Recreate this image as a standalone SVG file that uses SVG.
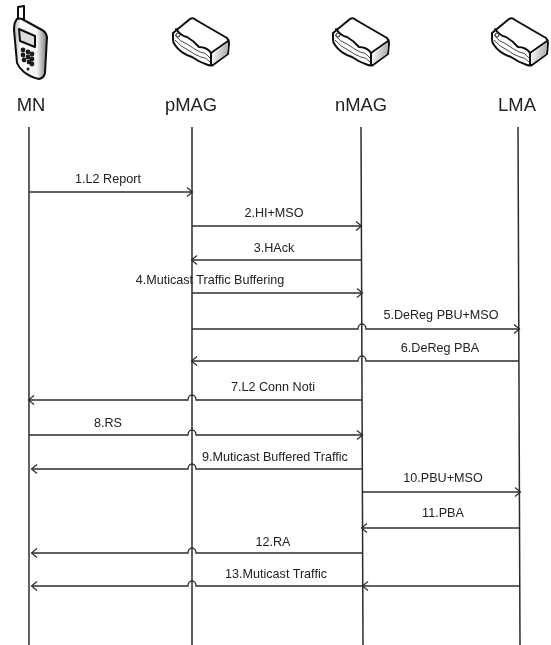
<svg xmlns="http://www.w3.org/2000/svg" width="551" height="645" viewBox="0 0 551 645">
<style>
text{font-family:"Liberation Sans",Arial,sans-serif;fill:#222}
.h{font-size:18.4px;text-anchor:middle}
.m{font-size:12.6px;text-anchor:middle}
.l{fill:none;stroke:#2b2b2b;stroke-width:1.5}
.a{fill:none;stroke:#2b2b2b;stroke-width:1.3}
.o{stroke:#111;stroke-width:2;stroke-linejoin:round;stroke-linecap:round}
.t{fill:none;stroke:#333;stroke-width:0.9;stroke-linejoin:round}
</style>
<defs>
<marker id="arr" markerUnits="userSpaceOnUse" markerWidth="12" markerHeight="12" refX="9" refY="6" orient="auto-start-reverse"><path d="M4 1.5 L9.5 6 L4 10.5" fill="none" stroke="#2b2b2b" stroke-width="1.2"/></marker>
<linearGradient id="side" x1="0" y1="0" x2="1" y2="0.2"><stop offset="0" stop-color="#fff"/><stop offset="1" stop-color="#b0b0b0"/></linearGradient>
<linearGradient id="ph" x1="0" y1="0" x2="1" y2="0"><stop offset="0" stop-color="#aaa"/><stop offset="0.2" stop-color="#fff"/><stop offset="0.7" stop-color="#f2f2f2"/><stop offset="1" stop-color="#777"/></linearGradient>
<filter id="b" x="-5%" y="-5%" width="110%" height="110%"><feGaussianBlur stdDeviation="0.5"/></filter>
<g id="router">
<path class="o" fill="#fff" d="M190 19 Q193 17 196 20 L227 38 Q229 40 229 43 L228 54 L213 65 Q211 66 208 65 Q199 62 192 57 Q180 53 175 45 Q173 43 173 39 L173 33 Z"/>
<path fill="url(#side)" d="M212 55 L228 42 L227 54 L212 64 Z"/>
<path class="o" fill="none" stroke-width="1.8" d="M176 29 Q181 36 187 37 Q194 41 199 47 Q207 47 211 53 L228 41 M211 53 L211 65"/>
<path class="t" d="M175 35 Q180 42 187 44 Q194 49 200 52 Q206 52 210 58 M175 40 Q181 47 188 50 Q195 55 201 57 Q206 57 210 62"/>
<circle cx="178" cy="35" r="2" fill="#fff" stroke="#222"/>
</g>
</defs>
<g filter="url(#b)">
<g id="connectors">
<path class="l" d="M29 127V645M192 127V645M361 127L363 645M518 127L520 645"/>
<path class="a" marker-end="url(#arr)" d="M29 192H192"/>
<path class="a" marker-end="url(#arr)" d="M192 226H361"/>
<path class="a" marker-end="url(#arr)" d="M361 260H192"/>
<path class="a" marker-end="url(#arr)" d="M192 293H362"/>
<path class="a" marker-end="url(#arr)" d="M192 329H358A4 5 0 0 1 366 329H519"/>
<path class="a" marker-end="url(#arr)" d="M519 361H366A4 5 0 0 0 358 361H192"/>
<path class="a" marker-end="url(#arr)" d="M362 400H196A4 5 0 0 0 188 400H29"/>
<path class="a" marker-end="url(#arr)" d="M29 435H188A4 5 0 0 1 196 435H362"/>
<path class="a" marker-end="url(#arr)" d="M362 469H196A4 5 0 0 0 188 469H32"/>
<path class="a" marker-end="url(#arr)" d="M362 492H520"/>
<path class="a" marker-end="url(#arr)" d="M520 528H362"/>
<path class="a" marker-end="url(#arr)" d="M363 553H196A4 5 0 0 0 188 553H32"/>
<path class="a" marker-end="url(#arr)" d="M520 586H363"/>
<path class="a" marker-end="url(#arr)" d="M363 586H196A4 5 0 0 0 188 586H32"/>
<text class="m" x="108" y="183">1.L2 Report</text>
<text class="m" x="274" y="217">2.HI+MSO</text>
<text class="m" x="274" y="252">3.HAck</text>
<text class="m" x="210" y="284">4.Muticast Traffic Buffering</text>
<text class="m" x="441" y="319">5.DeReg PBU+MSO</text>
<text class="m" x="440" y="352">6.DeReg PBA</text>
<text class="m" x="273" y="391">7.L2 Conn Noti</text>
<text class="m" x="108" y="427">8.RS</text>
<text class="m" x="275" y="461">9.Muticast Buffered Traffic</text>
<text class="m" x="443" y="482">10.PBU+MSO</text>
<text class="m" x="443" y="517">11.PBA</text>
<text class="m" x="273" y="546">12.RA</text>
<text class="m" x="276" y="578">13.Muticast Traffic</text>
</g>
<g id="MN">
<path class="o" fill="#fff" d="M18 7 L24 6 L24 22 L18 20 Z"/>
<path class="o" fill="url(#ph)" stroke-width="2.4" d="M17 19 Q19 18 22 19 L42 30 Q46 32 47 37 L45 73 Q44 78 39 79 Q30 77 24 72 Q19 68 17 63 L14 30 Q14 22 17 19 Z"/>
<path class="o" fill="#ddd" stroke-width="1.2" d="M19 29 L35 36 L35 47 L20 41 Z"/>
<g fill="#1a1a1a"><circle cx="23" cy="50" r="2.4"/><circle cx="28" cy="52" r="2.4"/><circle cx="32" cy="54" r="2.4"/><circle cx="23" cy="55" r="2.4"/><circle cx="28" cy="57" r="2.4"/><circle cx="32" cy="59" r="2.4"/><circle cx="24" cy="60" r="2.4"/><circle cx="29" cy="62" r="2.4"/><circle cx="32" cy="64" r="2.4"/><circle cx="28" cy="69" r="1.5"/></g>
<text class="h" x="31" y="111">MN</text>
</g>
<g id="pMAG"><use href="#router"/><text class="h" x="191" y="111">pMAG</text></g>
<g id="nMAG"><use href="#router" x="160"/><text class="h" x="361" y="111">nMAG</text></g>
<g id="LMA"><use href="#router" x="319"/><text class="h" x="517" y="111">LMA</text></g>
</g>
</svg>
